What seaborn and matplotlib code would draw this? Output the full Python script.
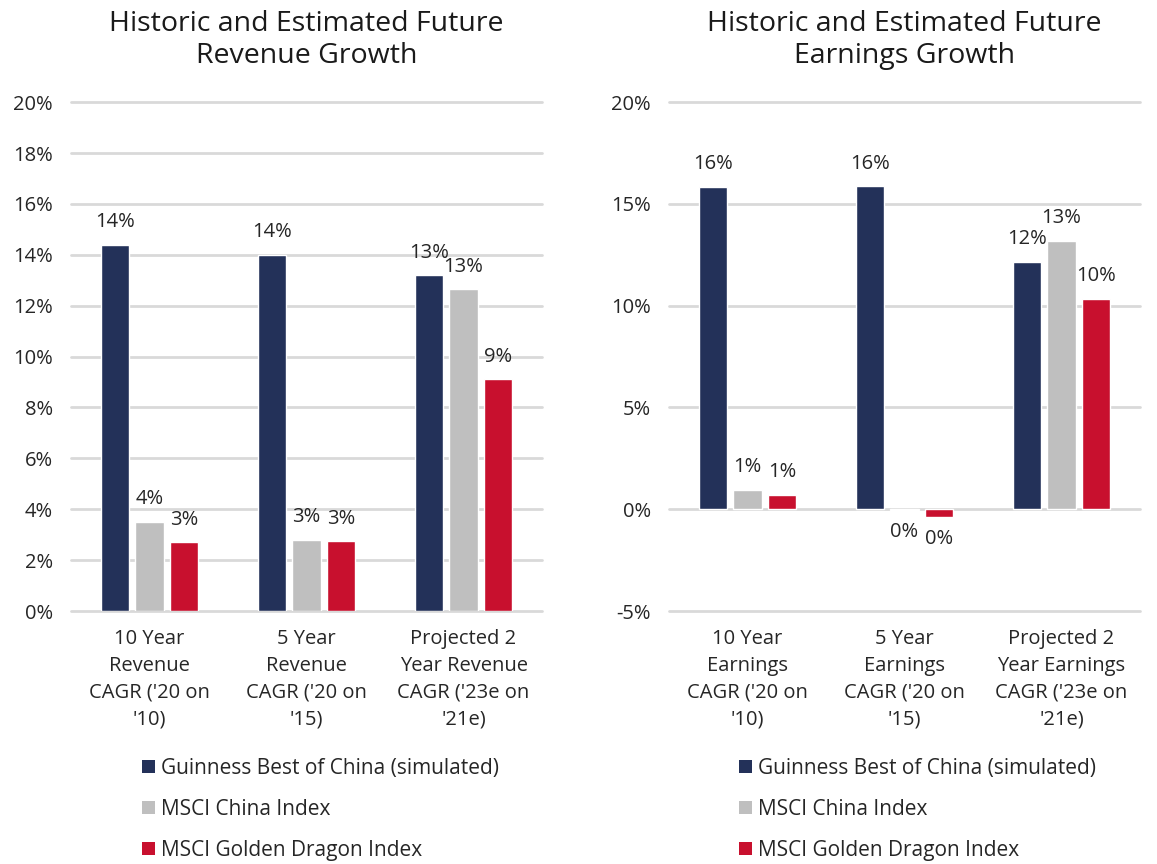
#!/usr/bin/env python3
"""Historic and estimated future revenue / earnings growth, two panels."""

import matplotlib.pyplot as plt
import pandas as pd
import seaborn as sns
from matplotlib.patches import Patch

# Data (percent)
SERIES = ["Guinness Best of China (simulated)", "MSCI China Index",
          "MSCI Golden Dragon Index"]
REV_CATS = ["10 Year\nRevenue\nCAGR ('20 on\n'10)",
            "5 Year\nRevenue\nCAGR ('20 on\n'15)",
            "Projected 2\nYear Revenue\nCAGR ('23e on\n'21e)"]
REV_GUINNESS = [14.4, 14.0, 13.2]
REV_CHINA = [3.5, 2.8, 12.65]
REV_DRAGON = [2.7, 2.75, 9.1]
EARN_CATS = ["10 Year\nEarnings\nCAGR ('20 on\n'10)",
             "5 Year\nEarnings\nCAGR ('20 on\n'15)",
             "Projected 2\nYear Earnings\nCAGR ('23e on\n'21e)"]
EARN_GUINNESS = [15.85, 15.87, 12.15]
EARN_CHINA = [0.95, -0.02, 13.2]
EARN_DRAGON = [0.72, -0.37, 10.35]
REV_TICKS = [0, 2, 4, 6, 8, 10, 12, 14, 16, 18, 20]
EARN_TICKS = [-5, 0, 5, 10, 15, 20]
COLORS = ["#233159", "#BFBFBF", "#C8102E"]
TEXT = "#262626"


def long_frame(cats, *vals):
    """Stack the series into a long table for seaborn."""
    rows = []
    for name, v in zip(SERIES, vals):
        for c, x in zip(cats, v):
            rows.append({"cat": c, "series": name, "value": x})
    return pd.DataFrame(rows)


def draw_panel(ax, df, cats, ticks, title):
    sns.barplot(data=df, x="cat", y="value", hue="series", order=cats,
                hue_order=SERIES, palette=COLORS, width=0.66, gap=0.18,
                saturation=1, legend=False, ax=ax, zorder=3)
    # value labels
    for cont in ax.containers:
        labels = [f"{int(round(b.get_height())) + 0}%" for b in cont]
        ax.bar_label(cont, labels=labels, padding=9, fontsize=14.5,
                     color=TEXT)
    ax.set_ylim(ticks[0], ticks[-1])
    ax.set_xlim(-0.5, 2.5)
    ax.set_yticks(ticks)
    ax.set_yticklabels([f"{t}%" for t in ticks])
    for t in ticks:
        ax.axhline(t, color="#D9D9D9", lw=2, zorder=1, clip_on=False)
    ax.grid(False)
    sns.despine(ax=ax, left=True, bottom=True)
    ax.tick_params(axis="both", length=0, labelsize=14.5, colors=TEXT)
    ax.tick_params(axis="y", pad=13)
    ax.tick_params(axis="x", pad=13)
    for lab in ax.get_xticklabels():
        lab.set_linespacing(1.45)
    ax.set(xlabel="", ylabel="")
    ax.set_title(title, fontsize=20.5, color="#1a1a1a", pad=28,
                 linespacing=1.2)


def main():
    sns.set_theme(style="white")
    plt.rcParams["font.family"] = ["Open Sans", "DejaVu Sans"]

    fig = plt.figure(figsize=(11.57, 8.64), dpi=100)
    ax1 = fig.add_axes([0.0614, 0.2928, 0.4071, 0.589])
    ax2 = fig.add_axes([0.5782, 0.2928, 0.4071, 0.589])

    rev = long_frame(REV_CATS, REV_GUINNESS, REV_CHINA, REV_DRAGON)
    earn = long_frame(EARN_CATS, EARN_GUINNESS, EARN_CHINA, EARN_DRAGON)
    draw_panel(ax1, rev, REV_CATS, REV_TICKS,
               "Historic and Estimated Future\nRevenue Growth")
    draw_panel(ax2, earn, EARN_CATS, EARN_TICKS,
               "Historic and Estimated Future\nEarnings Growth")

    # Legends under each panel
    handles = [Patch(facecolor=c, edgecolor="none") for c in COLORS]
    for x0 in (142 / 1157, 739 / 1157):
        fig.legend(handles, SERIES, loc="upper left",
                   bbox_to_anchor=(x0, 1 - 758 / 864), frameon=False,
                   fontsize=15, labelcolor=TEXT, handlelength=0.6,
                   handleheight=0.6, handletextpad=0.3, labelspacing=0.95,
                   borderpad=0, borderaxespad=0)

    fig.savefig("out.png", dpi=100)


if __name__ == "__main__":
    main()
